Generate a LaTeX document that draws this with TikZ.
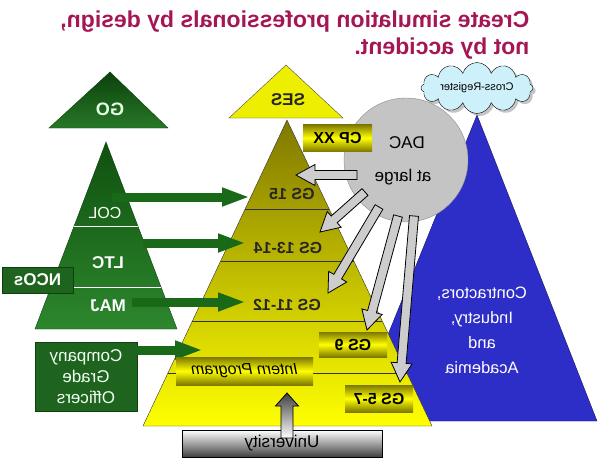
\documentclass[tikz,border=0pt]{standalone}
\usepackage{fontspec}
\setmainfont{Liberation Sans}
\usetikzlibrary{calc}
\usetikzlibrary{arrows.meta}
\usetikzlibrary{shapes.symbols}
\usetikzlibrary{shadows}

\definecolor{titlered}{RGB}{165,22,85}
\definecolor{gotop}{RGB}{12,65,12}
\definecolor{gobot}{RGB}{40,120,40}
\definecolor{grtop}{RGB}{15,80,15}
\definecolor{grbot}{RGB}{45,135,45}
\definecolor{boxgreen}{RGB}{30,100,30}
\definecolor{arrgreen}{RGB}{25,105,25}
\definecolor{pyrtop}{RGB}{128,120,0}
\definecolor{pyrbot}{RGB}{255,255,0}
\definecolor{sesyel}{RGB}{238,238,0}
\definecolor{boxolive}{RGB}{125,120,0}
\definecolor{boxyel}{RGB}{255,255,0}
\definecolor{dacgrey}{RGB}{196,196,196}
\definecolor{arrgrey}{RGB}{205,205,205}
\definecolor{cloudblue}{RGB}{205,240,250}
\definecolor{acadblue}{RGB}{45,45,200}

% [style]{tail}{tip}{half shaft}{half head}{head length}
\newcommand{\blockarrow}[6][]{%
  \coordinate (hb) at ($(#3)!#6!(#2)$);
  \draw[#1] ($(#2)!#4!90:(#3)$) -- ($(hb)!#4!90:(#3)$) -- ($(hb)!#5!90:(#3)$)
    -- (#3) -- ($(hb)!#5!-90:(#3)$) -- ($(hb)!#4!-90:(#3)$) -- ($(#2)!#4!-90:(#3)$) -- cycle;}

\begin{document}
\begin{tikzpicture}[x=1pt, y=-1pt,
  mirror/.style={xscale=-1},
  lbl/.style={mirror, font=\fontsize{16}{18}\selectfont\bfseries},
  wtxt/.style={mirror, text=white, font=\fontsize{16}{18}\selectfont},
  gsbox/.style={mirror, top color=boxolive, bottom color=boxolive, middle color=boxyel,
    inner sep=0pt, minimum height=27pt, font=\fontsize{16}{18}\selectfont\bfseries},
  greenbox/.style={mirror, fill=boxgreen, draw=gotop, inner sep=0pt, text=white},
  greenarr/.style={draw=arrgreen, line width=9pt, -{Triangle[length=28pt,width=17pt]}},
  greyarr/.style={draw=black, fill=arrgrey, line width=.8pt}]
\fill [white] (0,0) rectangle (599,459);

\node [mirror, anchor=base west, text=titlered, font=\fontsize{23}{25}\selectfont\bfseries] (title1) at (533,27) {Create simulation professionals by design,};
\node [mirror, anchor=base west, text=titlered, font=\fontsize{23}{25}\selectfont\bfseries] (title2) at (533,54) {not by accident.};

% officers
\draw [draw=gotop, top color=gotop, bottom color=gobot] (110,72) -- (49,128) -- (168,128) -- cycle;
\node [lbl, text=green!10, font=\fontsize{18}{20}\selectfont\bfseries] (go) at (110,109) {GO};
\coordinate (gt) at (106,142);
\coordinate (gl) at (35,329);
\coordinate (gr) at (177,329);
\draw [draw=gotop, top color=grtop, bottom color=grbot] (gt) -- (gl) -- (gr) -- cycle;
\foreach \f in {.449,.775}
  \draw [white, line width=.8pt] ($(gt)!\f!(gl)$) -- ($(gt)!\f!(gr)$);
\node [wtxt] (col) at (105,213) {COL};
\node [wtxt, font=\fontsize{17}{19}\selectfont\bfseries] (ltc) at (108,263) {LTC};
\node [wtxt, font=\fontsize{17}{19}\selectfont\bfseries] (maj) at (108,306) {MAJ};
\node [greenbox, minimum width=71pt, minimum height=26pt, font=\fontsize{17}{19}\selectfont\bfseries] (ncos) at (37.5,280) {NCOs};
\node [greenbox, minimum width=102pt, minimum height=69pt, align=center, text=green!5!white,
  font=\fontsize{17}{21}\selectfont] (cgo) at (86,376.5) {Company\\Grade\\Officers};

% outside
\coordinate (bt) at (477,115);
\draw [draw=acadblue!50!black, fill=acadblue] (bt) -- (353,421) -- (597,421) -- cycle;
\node [wtxt, align=center, font=\fontsize{16.5}{25}\selectfont] (cia) at (482,330) {Contractors,\\Industry,\\and\\Academia};

% civilians
\draw [draw=black!70, fill=sesyel] (286,65) -- (229,118) -- (343,118) -- cycle;
\node [lbl, text=black!85, font=\fontsize{17}{19}\selectfont\bfseries] (ses) at (288,100) {SES};
\coordinate (pt) at (287,120);
\coordinate (pl) at (143,426);
\coordinate (pr) at (432,426);
\draw [draw=black!80, top color=pyrtop, bottom color=pyrbot] (pt) -- (pl) -- (pr) -- cycle;
\foreach \f in {.291,.461,.657,.827}
  \draw [black!80] ($(pt)!\f!(pl)$) -- ($(pt)!\f!(pr)$);
\node [lbl, text=black!85] (gs15) at (292,194) {GS 15};
\node [lbl, text=black!85] (gs1314) at (288,248) {GS 13-14};
\node [lbl, text=black!85] (gs1112) at (287,305) {GS 11-12};

\coordinate (a1) at (112,197);
\coordinate (b1) at (250,197);
\coordinate (a2) at (143,243);
\coordinate (b2) at (246,243);
\coordinate (a3) at (132,302);
\coordinate (b3) at (246,302);
\coordinate (a4) at (137,350);
\coordinate (b4) at (203,350);
\foreach \i in {1,...,4}
  \draw [greenarr] (a\i) -- (b\i);

\node [circle, draw=black!45, fill=dacgrey, minimum size=124pt] (dac) at (406,160) {};
\node [mirror, font=\fontsize{17}{19}\selectfont] (daca) at (407,143) {DAC};
\node [mirror, font=\fontsize{17}{19}\selectfont] (dacb) at (403,177) {at large};
\node [mirror, cloud, cloud puffs=12, aspect=3.3, draw, fill=cloudblue, inner sep=0pt,
  minimum width=112pt, minimum height=34pt, drop shadow={fill=black!45},
  font=\fontsize{11}{13}\selectfont] (cross) at (477,88) {Cross-Register};
\node [gsbox, minimum width=69pt] (cpxx) at (337.5,138) {CP XX};

\coordinate (t1) at (357,175);
\coordinate (h1) at (296,175);
\coordinate (t2) at (365,192);
\coordinate (h2) at (320,232);
\coordinate (t3) at (379,207);
\coordinate (h3) at (328,293);
\coordinate (t4) at (398,216);
\coordinate (h4) at (367,330);
\coordinate (t5) at (414,216);
\coordinate (h5) at (400,382);
\foreach \i in {1,...,5}
  {\blockarrow[greyarr]{t\i}{h\i}{4.5pt}{10.5pt}{19pt}}

\node [gsbox, minimum width=68pt, minimum height=25pt] (gs9) at (353,344.5) {GS 9};
\node [gsbox, minimum width=137pt, minimum height=28pt, font=\fontsize{16}{18}\selectfont\itshape] (intern) at (244.5,371) {Intern Program};
\node [gsbox, minimum width=68pt] (gs57) at (379,398.5) {GS 5-7};

\node [draw=black, top color=white, bottom color=black!75, minimum width=200pt, minimum height=27pt] (uni) at (282,443.5) {};
\coordinate (ua) at (287,438);
\coordinate (ub) at (287,393);
\blockarrow[draw=black, line width=.8pt, top color=black!75, bottom color=white]{ua}{ub}{6pt}{11.5pt}{13pt}
\node [mirror, font=\fontsize{17}{19}\selectfont] (unitxt) at (uni.center) {University};
\end{tikzpicture}
\end{document}
